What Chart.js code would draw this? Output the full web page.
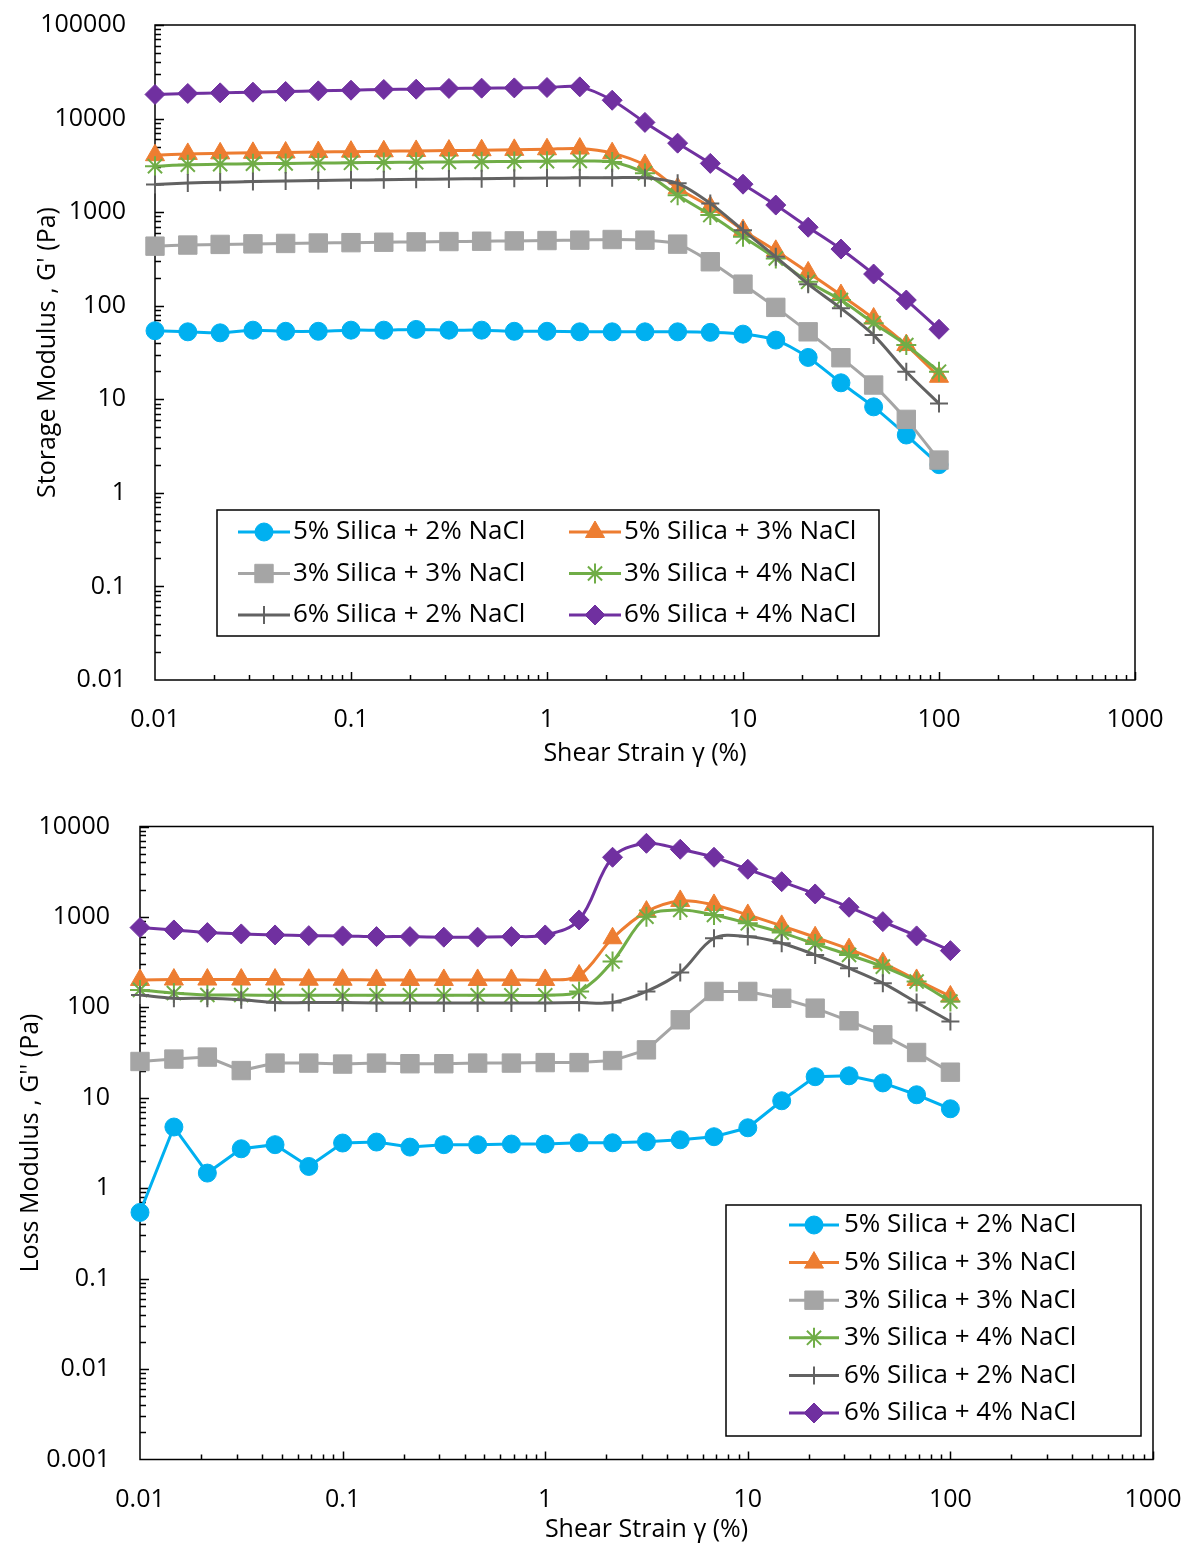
<!DOCTYPE html>
<html>
<head>
<meta charset="utf-8">
<script src="https://cdn.jsdelivr.net/npm/chart.js@4.4.1/dist/chart.umd.min.js"></script>
<style>
  html, body { margin: 0; padding: 0; background: #fff; }
  #wrap { position: relative; width: 1188px; height: 1545px; }
  canvas { position: absolute; left: 0; }
  #storage { top: 0; }
  #loss { top: 790px; }
</style>
</head>
<body>
<div id="wrap">
  <canvas id="storage" width="1188" height="790"></canvas>
  <canvas id="loss" width="1188" height="755"></canvas>
</div>
<script>
// shear strain sweep, %
var strain = [0.01, 0.0147, 0.0215, 0.0316, 0.0464, 0.0681, 0.1, 0.147, 0.215, 0.316, 0.464, 0.681,
              1, 1.47, 2.15, 3.16, 4.64, 6.81, 10, 14.7, 21.5, 31.6, 46.4, 68.1, 100];

var seriesNames = ['5% Silica + 2% NaCl', '5% Silica + 3% NaCl', '3% Silica + 3% NaCl',
                   '3% Silica + 4% NaCl', '6% Silica + 2% NaCl', '6% Silica + 4% NaCl'];

// storage modulus G' (Pa)
var gp_s5n2 = [54, 52.6, 51.3, 54.8, 53.3, 53.3, 54.8, 54.8, 55.8, 54.8, 54.8, 53.3,
               53.3, 52.6, 52.6, 52.6, 52.6, 51.9, 49.7, 42.9, 28, 15, 8.3, 4.15, 2.0];
var gp_s5n3 = [4060, 4190, 4250, 4300, 4340, 4390, 4430, 4470, 4510, 4550, 4590, 4630,
               4700, 4780, 4270, 3180, 1800, 1140, 642, 386, 227, 130, 73, 38, 17.4];
var gp_s3n3 = [433, 445, 452, 458, 463, 468, 472, 477, 481, 485, 489, 493,
               497, 502, 510, 502, 455, 295, 170, 96, 52.6, 27.8, 14.2, 6.1, 2.24];
var gp_s3n4 = [3100, 3210, 3260, 3290, 3320, 3350, 3370, 3400, 3420, 3440, 3460, 3480,
               3500, 3520, 3440, 2610, 1515, 930, 545, 320, 180, 115, 65, 38, 19.7];
var gp_s6n2 = [1980, 2050, 2090, 2120, 2150, 2180, 2200, 2220, 2240, 2260, 2280, 2300,
               2310, 2330, 2330, 2330, 2030, 1240, 642, 333, 170, 94, 48.5, 19.7, 9.0];
var gp_s6n4 = [18100, 18540, 18820, 19150, 19480, 19770, 20110, 20460, 20610, 20970, 21130, 21280,
               21480, 21820, 15700, 9100, 5460, 3320, 1990, 1190, 690, 403, 218, 115, 56];

// loss modulus G'' (Pa)
var gpp_s5n2 = [0.54, 4.75, 1.47, 2.73, 3.03, 1.74, 3.16, 3.24, 2.85, 3.03, 3.03, 3.08,
                3.08, 3.18, 3.18, 3.26, 3.43, 3.71, 4.66, 9.27, 17.1, 17.5, 14.6, 10.8, 7.56];
var gpp_s5n3 = [201, 203, 203, 203, 203, 202, 202, 201, 201, 201, 201, 201,
                201, 225, 581, 1145, 1503, 1357, 1052, 796, 596, 440, 308, 201, 132];
var gpp_s3n3 = [25.2, 26.8, 28.2, 20.0, 24.2, 24.2, 23.6, 24.2, 23.8, 23.8, 24.2, 24.2,
                24.5, 24.5, 25.8, 33.9, 72.8, 150, 150, 126, 98, 71, 49.7, 31.7, 19.2];
var gpp_s3n4 = [156, 144, 137, 137, 136, 136, 136, 136, 136, 136, 136, 136,
                136, 150, 321, 1007, 1195, 1052, 851, 671, 503, 380, 282, 193, 116];
var gpp_s6n2 = [137, 126, 126, 121, 113, 113, 113, 112, 112, 112, 112, 112,
                112, 113, 113, 150, 243, 581, 606, 512, 380, 271, 185, 113, 69.7];
var gpp_s6n4 = [762, 718, 671, 649, 632, 621, 617, 606, 606, 597, 597, 606,
                632, 926, 4570, 6520, 5600, 4570, 3365, 2455, 1795, 1280, 887, 617, 424];

var xTicks = [0.01, 0.1, 1, 10, 100, 1000];
var xTickLabels = ['0.01', '0.1', '1', '10', '100', '1000'];
var yTicksStorage = [0.01, 0.1, 1, 10, 100, 1000, 10000, 100000];
var yTickLabelsStorage = ['0.01', '0.1', '1', '10', '100', '1000', '10000', '100000'];
var yTicksLoss = [0.001, 0.01, 0.1, 1, 10, 100, 1000, 10000];
var yTickLabelsLoss = ['0.001', '0.01', '0.1', '1', '10', '100', '1000', '10000'];

var seriesStyle = [
  { color: '#00B0F0', point: 'circle',   radius: 9,  border: 1 },
  { color: '#ED7D31', point: 'triangle', radius: 11, border: 1 },
  { color: '#A5A5A5', point: 'rect',     radius: 13, border: 1 },
  { color: '#70AD47', point: 'star',     radius: 10, border: 2 },
  { color: '#626262', point: 'cross',    radius: 9,  border: 2 },
  { color: '#7030A0', point: 'rectRot',  radius: 10, border: 1 }
];

var FONT = "'Open Sans'";
Chart.defaults.font.family = FONT;
Chart.defaults.font.size = 25;
Chart.defaults.color = '#000';

function makeDatasets(series, tensions) {
  return series.map(function(values, i) {
    var st = seriesStyle[i];
    return {
      label: seriesNames[i],
      data: strain.map(function(x, k) { return { x: x, y: values[k] }; }),
      borderColor: st.color,
      backgroundColor: st.color,
      borderWidth: 3,
      pointStyle: st.point,
      pointRadius: st.radius,
      pointBackgroundColor: st.color,
      pointBorderColor: st.color,
      pointBorderWidth: st.border,
      tension: tensions[i],
      clip: false,
      order: series.length - i
    };
  });
}

// box around the plot with small tick marks pointing inwards
var frameTicks = {
  id: 'frameTicks',
  beforeDatasetsDraw: function(chart) {
    var ctx = chart.ctx, a = chart.chartArea;
    var xs = chart.scales.x, ys = chart.scales.y;
    ctx.save();
    ctx.strokeStyle = '#000';
    ctx.lineWidth = 1.5;
    ctx.strokeRect(a.left, a.top, a.right - a.left, a.bottom - a.top);
    ctx.beginPath();
    var e, m, p;
    for (e = Math.round(Math.log10(xs.min)); e < Math.round(Math.log10(xs.max)); e++) {
      for (m = 2; m <= 10; m++) {
        p = Math.round(xs.getPixelForValue(m * Math.pow(10, e))) + 0.5;
        ctx.moveTo(p, a.bottom);
        ctx.lineTo(p, a.bottom - (m === 10 ? 8 : 5));
      }
    }
    for (e = Math.round(Math.log10(ys.min)); e < Math.round(Math.log10(ys.max)); e++) {
      for (m = 2; m <= 10; m++) {
        p = Math.round(ys.getPixelForValue(m * Math.pow(10, e))) + 0.5;
        ctx.moveTo(a.left, p);
        ctx.lineTo(a.left + (m === 10 ? 9 : 6), p);
      }
    }
    ctx.stroke();
    ctx.restore();
  }
};

// framed legend placed inside the plot
var boxLegend = {
  id: 'boxLegend',
  afterDatasetsDraw: function(chart, args, o) {
    var ctx = chart.ctx;
    ctx.save();
    ctx.fillStyle = '#fff';
    ctx.fillRect(o.left, o.top, o.width, o.height);
    ctx.strokeStyle = '#000';
    ctx.lineWidth = 1.5;
    ctx.strokeRect(o.left, o.top, o.width, o.height);
    ctx.font = '26px ' + FONT;
    ctx.textBaseline = 'middle';
    chart.data.datasets.forEach(function(ds, i) {
      var col = i % o.columns, row = Math.floor(i / o.columns);
      var x0 = o.left + o.sampleLeft + col * o.colWidth;
      var y = o.top + o.firstRow + row * o.rowHeight;
      ctx.strokeStyle = ds.borderColor;
      ctx.lineWidth = ds.borderWidth;
      ctx.beginPath();
      ctx.moveTo(x0, y);
      ctx.lineTo(x0 + o.sampleWidth, y);
      ctx.stroke();
      ctx.fillStyle = ds.pointBackgroundColor;
      ctx.strokeStyle = ds.pointBorderColor;
      ctx.lineWidth = ds.pointBorderWidth;
      Chart.helpers.drawPoint(ctx, {
        pointStyle: ds.pointStyle, radius: ds.pointRadius, rotation: 0, borderWidth: ds.pointBorderWidth
      }, x0 + o.sampleWidth / 2, y);
      ctx.fillStyle = '#000';
      ctx.fillText(ds.label, x0 + o.sampleWidth + o.textGap, y);
    });
    ctx.restore();
  }
};

// fixed scale box sizes; labels may overhang the plot without moving it
function fixSize(s, prop, size) {
  s[prop] = size;
  s.paddingTop = s.paddingBottom = s.paddingLeft = s.paddingRight = 0;
}

function makeChart(id, cfg) {
  return new Chart(document.getElementById(id), {
    type: 'line',
    data: { datasets: makeDatasets(cfg.series, cfg.tension) },
    options: {
      responsive: false,
      animation: false,
      events: [],
      layout: { padding: cfg.padding },
      plugins: {
        legend: { display: false },
        tooltip: { enabled: false },
        boxLegend: cfg.legend
      },
      scales: {
        x: {
          type: 'logarithmic',
          min: 0.01, max: 1000,
          grid: { display: false, drawTicks: false },
          border: { display: false },
          afterBuildTicks: function(s) { s.ticks = xTicks.map(function(v) { return { value: v }; }); },
          afterFit: function(s) { fixSize(s, 'height', cfg.xHeight); },
          ticks: {
            autoSkip: false, maxRotation: 0, padding: cfg.xTickPad,
            callback: function(v, i) { return xTickLabels[i]; }
          },
          title: { display: true, text: 'Shear Strain γ (%)', padding: { top: 0, bottom: cfg.xTitlePad } }
        },
        y: {
          type: 'logarithmic',
          min: cfg.yTicks[0], max: cfg.yTicks[cfg.yTicks.length - 1],
          grid: { display: false, drawTicks: false },
          border: { display: false },
          afterBuildTicks: function(s) { s.ticks = cfg.yTicks.map(function(v) { return { value: v }; }); },
          afterFit: function(s) { fixSize(s, 'width', cfg.yWidth); },
          ticks: {
            autoSkip: false, padding: cfg.yTickPad,
            callback: function(v, i) { return cfg.yLabels[i]; }
          },
          title: { display: true, text: cfg.yTitle, padding: { top: cfg.yTitlePad, bottom: 0 } }
        }
      }
    },
    plugins: [frameTicks, boxLegend]
  });
}

makeChart('storage', {
  series: [gp_s5n2, gp_s5n3, gp_s3n3, gp_s3n4, gp_s6n2, gp_s6n4],
  tension: [0.3, 0.3, 0.3, 0.3, 0.3, 0.3],
  yTicks: yTicksStorage, yLabels: yTickLabelsStorage,
  yTitle: "Storage Modulus , G' (Pa)",
  padding: { left: 0, right: 53, top: 25, bottom: 0 },
  xHeight: 110, yWidth: 155,
  xTickPad: 25, yTickPad: 29, xTitlePad: 21, yTitlePad: 33,
  legend: { left: 217, top: 510, width: 662, height: 126, columns: 2, colWidth: 331,
            sampleLeft: 21, sampleWidth: 52, textGap: 3, firstRow: 22, rowHeight: 41.5 }
});

makeChart('loss', {
  series: [gpp_s5n2, gpp_s5n3, gpp_s3n3, gpp_s3n4, gpp_s6n2, gpp_s6n4],
  tension: [0, 0.35, 0, 0.35, 0.35, 0.35],
  yTicks: yTicksLoss, yLabels: yTickLabelsLoss,
  yTitle: "Loss Modulus , G'' (Pa)",
  padding: { left: 0, right: 35, top: 36.5, bottom: 0 },
  xHeight: 85.5, yWidth: 140,
  xTickPad: 25, yTickPad: 30, xTitlePad: 0, yTitlePad: 16,
  legend: { left: 726, top: 415, width: 415, height: 231, columns: 1, colWidth: 0,
            sampleLeft: 63, sampleWidth: 50, textGap: 5, firstRow: 20, rowHeight: 37.6 }
});
</script>
</body>
</html>
